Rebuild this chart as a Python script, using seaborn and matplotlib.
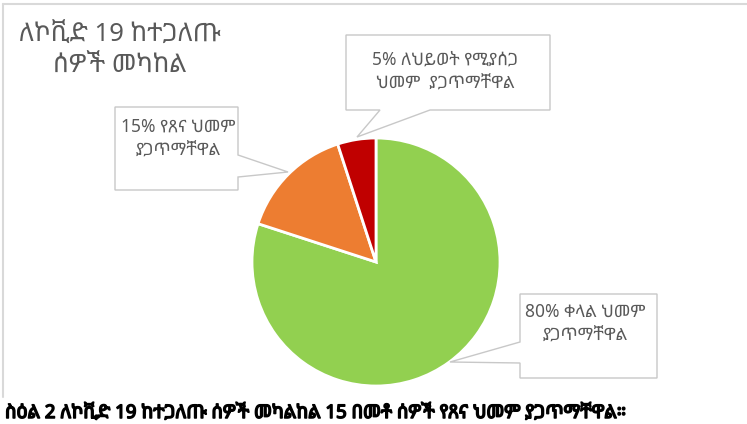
import matplotlib
matplotlib.use("Agg")
import matplotlib.pyplot as plt
import matplotlib.patheffects as pe
from matplotlib.patches import Polygon
import seaborn as sns

# ---- data ----
categories = ["ቀላል ህመም", "የጸና ህመም", "ለህይወት የሚያሰጋ ህመም"]
values = [80, 15, 5]
colors = ["#92D050", "#ED7D31", "#C00000"]
labels = [
    "80% ቀላል ህመም\nያጋጥማቸዋል",
    "15% የጸና ህመም\nያጋጥማቸዋል",
    "5% ለህይወት የሚያሰጋ\nህመም  ያጋጥማቸዋል",
]
title = "ለኮቪድ 19 ከተጋለጡ\nሰዎች መካከል"
caption = "ስዕል 2 ለኮቪድ 19 ከተጋለጡ ሰዎች መካልከል 15 በመቶ ሰዎች የጸና ህመም ያጋጥማቸዋል።"

sns.set_theme(style="white")
plt.rcParams["font.family"] = ["Noto Sans", "Noto Sans Ethiopic", "DejaVu Sans"]

W, H = 747, 424
fig = plt.figure(figsize=(W / 100, H / 100), dpi=100)
ax = fig.add_axes([0, 0, 1, 1])
ax.axis("off")

def P(x, y):
    return (x, H - y)

# chart frame (top and left)
ax.plot([3, W], [H - 4, H - 4], color="#D9D9D9", lw=1.5)
ax.plot([3, 3], [H - 4, H - 397], color="#D9D9D9", lw=1.5)

ax.pie(values, colors=colors, startangle=90, counterclock=False,
       center=P(376, 262), radius=124,
       wedgeprops=dict(edgecolor="white", linewidth=2))
ax.set_xlim(0, W)
ax.set_ylim(0, H)
ax.set_aspect("auto")

# callouts
callouts = [
    [(520, 294), (657, 294), (657, 378), (520, 378), (520, 363), (450, 362), (520, 342)],
    [(115, 107), (238, 107), (238, 155), (288, 172), (238, 177), (238, 190), (115, 190)],
    [(346, 35), (550, 35), (550, 110), (430, 110), (357, 137), (380, 110), (346, 110)],
]
text_pos = [(585, 323), (178, 138), (445, 71)]
for poly, lab, tp in zip(callouts, labels, text_pos):
    ax.add_patch(Polygon([P(*p) for p in poly], closed=True, facecolor="white",
                         edgecolor="#C8C8C8", lw=1, zorder=3))
    ax.text(*P(*tp), lab, ha="center", va="center", fontsize=12.5,
            color="#595959", linespacing=1.3, zorder=4)

ax.text(*P(120, 51), title, ha="center", va="center", fontsize=18.5,
        color="#595959", linespacing=1.35)

ax.text(*P(5, 413), caption, ha="left", va="center", fontsize=13.4,
        color="black",
        path_effects=[pe.withStroke(linewidth=1.1, foreground="black")])

fig.savefig("out.png", dpi=100)
